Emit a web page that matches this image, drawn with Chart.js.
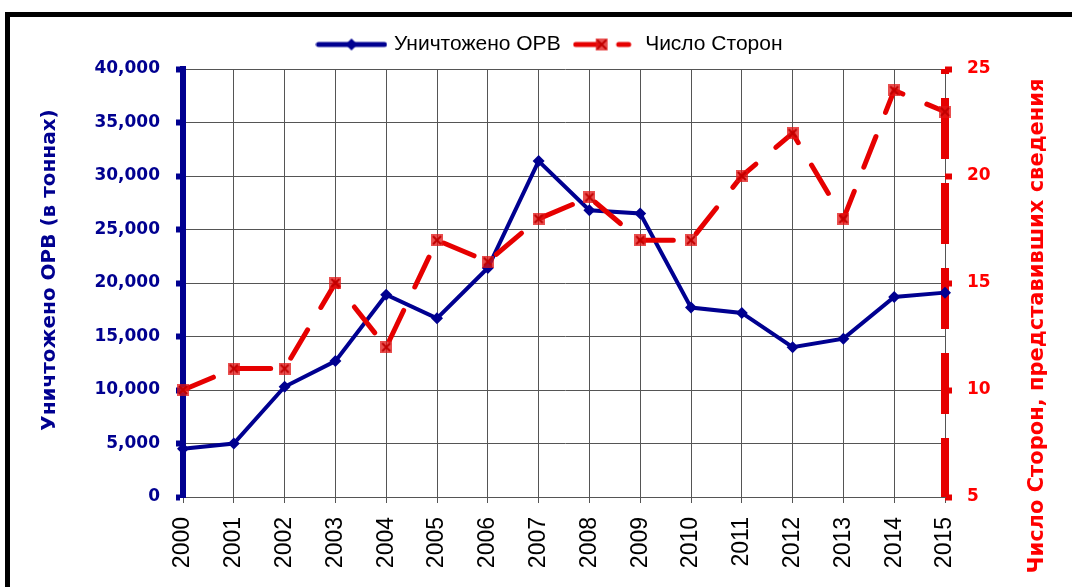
<!DOCTYPE html>
<html lang="ru">
<head>
<meta charset="utf-8">
<title>Уничтожено ОРВ и число Сторон</title>
<script src="https://cdn.jsdelivr.net/npm/chart.js@4.4.1/dist/chart.umd.min.js"></script>
<style>
  html, body { margin: 0; padding: 0; background: #fff; overflow: hidden; }
  #frame {
    position: absolute; left: 5px; top: 12px; width: 1200px; height: 700px;
    border-left: 5px solid #000; border-top: 5px solid #000;
  }
  #chart { position: absolute; left: 0; top: 0; }
</style>
</head>
<body>
<div id="frame"></div>
<canvas id="chart" width="1072" height="587"></canvas>
<script>
// === DATA ===
const years = ["2000", "2001", "2002", "2003", "2004", "2005", "2006", "2007",
               "2008", "2009", "2010", "2011", "2012", "2013", "2014", "2015"];
const destroyedOds = [4500, 5000, 10300, 12700, 18900, 16700, 21400, 31400,
                      26800, 26500, 17700, 17200, 14000, 14800, 18700, 19100];
const partiesReporting = [10, 11, 11, 15, 12, 17, 16, 18,
                          19, 17, 17, 20, 22, 18, 24, 23];
const leftRange = [0, 40000, 5000];
const rightRange = [5, 25, 5];
const seriesNames = ["Уничтожено ОРВ", "Число Сторон"];
const leftTitle = "Уничтожено ОРВ (в тоннах)";
const rightTitle = "Число Сторон, представивших сведения";

const BLUE = "#000090";
const RED = "#e60000";
const GRID = "#555";
const tickFont = { family: "'DejaVu Sans'", size: 17, weight: "bold" };

// === MARKERS / LEGEND ICONS ===
function makeCanvas(w, h) {
  const c = document.createElement("canvas");
  c.width = w;
  c.height = h;
  return c;
}

function drawRedMarker(ctx, cx, cy) {
  ctx.fillStyle = "rgba(225, 20, 20, 0.75)";
  ctx.fillRect(cx - 6, cy - 6, 12, 12);
  ctx.strokeStyle = "#c00000";
  ctx.lineWidth = 2;
  ctx.beginPath();
  ctx.moveTo(cx - 4, cy - 4); ctx.lineTo(cx + 4, cy + 4);
  ctx.moveTo(cx + 4, cy - 4); ctx.lineTo(cx - 4, cy + 4);
  ctx.stroke();
}

const redMarker = makeCanvas(12, 12);
drawRedMarker(redMarker.getContext("2d"), 6, 6);

const blueIcon = makeCanvas(72, 14);
(() => {
  const ctx = blueIcon.getContext("2d");
  ctx.strokeStyle = BLUE;
  ctx.lineWidth = 5;
  ctx.lineCap = "round";
  ctx.beginPath(); ctx.moveTo(3, 7); ctx.lineTo(69, 7); ctx.stroke();
  ctx.fillStyle = BLUE;
  ctx.beginPath();
  ctx.moveTo(36, 1); ctx.lineTo(42, 7); ctx.lineTo(36, 13); ctx.lineTo(30, 7);
  ctx.closePath(); ctx.fill();
})();

const redIcon = makeCanvas(60, 14);
(() => {
  const ctx = redIcon.getContext("2d");
  ctx.strokeStyle = RED;
  ctx.lineWidth = 5;
  ctx.lineCap = "round";
  ctx.beginPath(); ctx.moveTo(3, 7); ctx.lineTo(26, 7); ctx.stroke();
  ctx.beginPath(); ctx.moveTo(46, 7); ctx.lineTo(56, 7); ctx.stroke();
  drawRedMarker(ctx, 29, 7);
})();
const legendIcons = [blueIcon, redIcon];

// === PLUGINS: dashed right axis + rotated axis titles ===
const rightAxisLine = {
  id: "rightAxisLine",
  beforeDatasetsDraw(chart) {
    const { ctx, chartArea } = chart;
    const x = chart.scales.y1.left;
    ctx.save();
    ctx.strokeStyle = RED;
    ctx.lineWidth = 8;
    ctx.setLineDash([61, 24]);
    ctx.lineDashOffset = 56;
    ctx.beginPath();
    ctx.moveTo(x, chartArea.top);
    ctx.lineTo(x, chartArea.bottom);
    ctx.stroke();
    ctx.restore();
  }
};

function drawRotated(ctx, text, x, y, font, color) {
  ctx.save();
  ctx.textAlign = "center";
  ctx.textBaseline = "middle";
  ctx.font = font;
  ctx.fillStyle = color;
  ctx.translate(x, y);
  ctx.rotate(-Math.PI / 2);
  ctx.fillText(text, 0, 0);
  ctx.restore();
}

const axisTitles = {
  id: "axisTitles",
  afterDraw(chart) {
    drawRotated(chart.ctx, leftTitle, 50, 270, "bold 20px 'DejaVu Sans'", BLUE);
    drawRotated(chart.ctx, rightTitle, 1038, 326, "bold 21px 'DejaVu Sans'", "#f00");
  }
};

// === CHART ===
new Chart(document.getElementById("chart"), {
  type: "line",
  data: {
    labels: years,
    datasets: [
      {
        label: seriesNames[0],
        data: destroyedOds,
        yAxisID: "y",
        order: 1,
        borderColor: BLUE,
        backgroundColor: BLUE,
        borderWidth: 4,
        pointStyle: "rectRot",
        pointRadius: 6,
        pointBorderWidth: 0,
        tension: 0
      },
      {
        label: seriesNames[1],
        data: partiesReporting,
        yAxisID: "y1",
        order: 0,
        borderColor: RED,
        backgroundColor: RED,
        borderWidth: 5,
        borderDash: [33, 26],
        borderCapStyle: "round",
        pointStyle: redMarker,
        pointRadius: 6,
        tension: 0
      }
    ]
  },
  options: {
    responsive: false,
    animation: false,
    layout: { padding: { left: 30, right: 0, top: 24, bottom: 0 } },
    plugins: {
      tooltip: { enabled: false },
      // empty spacer between legend and plot area
      subtitle: {
        display: true,
        text: "",
        weight: 500,
        padding: 0,
        font: { size: 4, lineHeight: 1 }
      },
      legend: {
        display: true,
        position: "top",
        labels: {
          usePointStyle: true,
          pointStyleWidth: 64,
          padding: 10,
          color: "#000",
          font: { family: "'Liberation Sans'", size: 21 },
          generateLabels: chart => chart.data.datasets.map((ds, i) => ({
            text: ds.label,
            pointStyle: legendIcons[i],
            fillStyle: ds.borderColor,
            strokeStyle: ds.borderColor,
            lineWidth: 0,
            fontColor: "#000",
            hidden: !chart.isDatasetVisible(i),
            datasetIndex: i
          }))
        }
      }
    },
    scales: {
      x: {
        offset: false,
        afterFit: s => { s.height = 90; },
        grid: { color: GRID, lineWidth: 1, tickLength: 6, tickColor: GRID },
        border: { color: GRID, width: 1 },
        ticks: {
          color: "#000",
          font: { family: "'Liberation Sans'", size: 23 },
          minRotation: 90,
          maxRotation: 90,
          padding: 14,
          autoSkip: false
        }
      },
      y: {
        position: "left",
        min: leftRange[0],
        max: leftRange[1],
        afterFit: s => { s.width = 153; },
        grid: { color: GRID, lineWidth: 1, tickLength: 7, tickWidth: 6, tickColor: BLUE },
        border: { color: BLUE, width: 6 },
        ticks: {
          stepSize: leftRange[2],
          color: BLUE,
          font: tickFont,
          padding: 16,
          callback: v => v.toLocaleString("en-US")
        }
      },
      y1: {
        position: "right",
        min: rightRange[0],
        max: rightRange[1],
        afterFit: s => { s.width = 127; },
        grid: { drawOnChartArea: false, tickLength: 7, tickWidth: 6, tickColor: RED },
        border: { display: false },
        ticks: {
          stepSize: rightRange[2],
          color: "#f00",
          font: tickFont,
          padding: 15
        }
      }
    }
  },
  plugins: [rightAxisLine, axisTitles]
});
</script>
</body>
</html>
